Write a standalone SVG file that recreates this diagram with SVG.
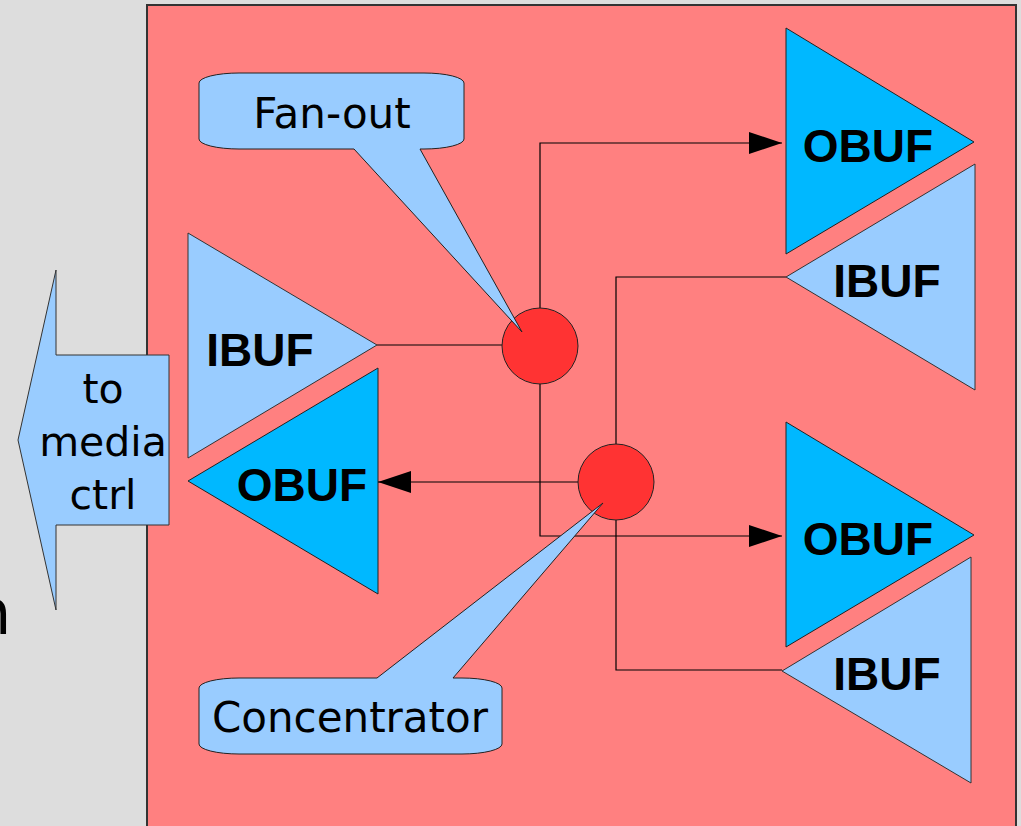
<svg xmlns="http://www.w3.org/2000/svg" width="1021" height="826" viewBox="0 0 1021 826">
<style>
.ib{fill:#99ccff;stroke:#333;stroke-width:1}
.ob{fill:#00b8ff;stroke:#222;stroke-width:1}
.lbl{font-family:"Liberation Sans",Arial,sans-serif;font-weight:bold;font-size:46px;fill:#000;text-anchor:middle}
.txt{font-family:"DejaVu Sans",Verdana,sans-serif;font-size:42px;fill:#000;text-anchor:middle}
.wire{fill:none;stroke:#000;stroke-width:1.2}
.dot{fill:#ff3333;stroke:#222;stroke-width:1}
.call{fill:#99ccff;stroke:#222;stroke-width:1}
</style>
<defs>
<marker id="ah" viewBox="0 0 33 22" refX="33" refY="11" markerWidth="33" markerHeight="22" markerUnits="userSpaceOnUse" orient="auto">
<polygon points="0,0 33,11 0,22" fill="#000"/>
</marker>
</defs>
<rect width="1021" height="826" fill="#dddddd"/>
<text x="-28" y="634" style="font-family:'DejaVu Sans',sans-serif;font-size:62px;fill:#000">n</text>
<rect id="board" x="147" y="5" width="869" height="840" fill="#ff8080" stroke="#333" stroke-width="2"/>
<g id="media">
<polygon class="ib" points="18,440 56,270 56,355 169,355 169,525 56,525 56,610"/>
<text class="txt" style="font-size:41px" x="103" y="403">to</text>
<text class="txt" style="font-size:41px" x="103" y="456">media</text>
<text class="txt" style="font-size:41px" x="103" y="509">ctrl</text>
</g>
<g id="ibuf-left">
<polygon class="ib" points="188,233 377,345 188,458"/>
<text class="lbl" x="260" y="366">IBUF</text>
</g>
<g id="obuf-left">
<polygon class="ob" points="378,368 188,481 378,594"/>
<text class="lbl" x="302" y="501">OBUF</text>
</g>
<g id="obuf-r1">
<polygon class="ob" points="786,28 974,142 786,254"/>
<text class="lbl" x="868" y="162">OBUF</text>
</g>
<g id="ibuf-r1">
<polygon class="ib" points="975,164 786,277 975,390"/>
<text class="lbl" x="887" y="297">IBUF</text>
</g>
<g id="obuf-r2">
<polygon class="ob" points="786,422 974,535 786,647"/>
<text class="lbl" x="868" y="555">OBUF</text>
</g>
<g id="ibuf-r2">
<polygon class="ib" points="971,557 782,671 971,783"/>
<text class="lbl" x="887" y="690">IBUF</text>
</g>
<g id="connectors">
<line class="wire" x1="377" y1="345" x2="502" y2="345"/>
<polyline class="wire" points="540,308 540,143 782,143" marker-end="url(#ah)"/>
<polyline class="wire" points="540,383 540,536 782,536" marker-end="url(#ah)"/>
<line class="wire" x1="578" y1="482" x2="378" y2="482" marker-end="url(#ah)"/>
<polyline class="wire" points="616,444 616,277 786,277"/>
<polyline class="wire" points="616,520 616,670 782,670"/>
</g>
<g id="fanout">
<circle class="dot" cx="540" cy="346" r="38"/>
</g>
<g id="concentrator">
<circle class="dot" cx="616" cy="482" r="38"/>
</g>
<g id="callout-fanout">
<path class="call" d="M239,73 H424 A40,10 0 0 1 464,83 V139 A40,10 0 0 1 424,149 H420 L522,332 L354,149 H239 A40,10 0 0 1 199,139 V83 A40,10 0 0 1 239,73 Z"/>
<text class="txt" x="332" y="128">Fan-out</text>
</g>
<g id="callout-concentrator">
<path class="call" d="M239,678 H377 L603,503 L453,678 H462 A40,10 0 0 1 502,688 V744 A40,10 0 0 1 462,754 H239 A40,10 0 0 1 199,744 V688 A40,10 0 0 1 239,678 Z"/>
<text class="txt" x="350" y="732">Concentrator</text>
</g>
</svg>
